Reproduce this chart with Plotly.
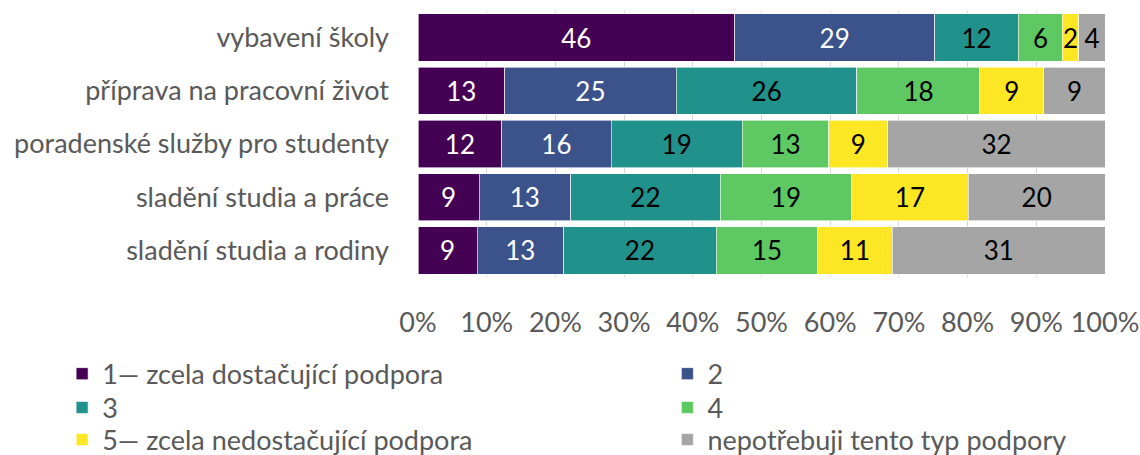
import plotly.graph_objects as go

categories = [
    "vybavení školy",
    "příprava na pracovní život",
    "poradenské služby pro studenty",
    "sladění studia a práce",
    "sladění studia a rodiny",
]
series_names = [
    "1— zcela dostačující podpora",
    "2",
    "3",
    "4",
    "5— zcela nedostačující podpora",
    "nepotřebuji tento typ podpory",
]
# percent values per series, in category order
s1 = [46.1, 12.6, 12.2, 8.9, 8.6]
s2 = [29.1, 25.0, 15.9, 13.3, 12.6]
s3 = [12.2, 26.3, 19.1, 21.8, 22.2]
s4 = [6.4, 17.9, 12.6, 19.1, 14.8]
s5 = [2.4, 9.3, 8.6, 17.0, 10.8]
s6 = [3.8, 8.9, 31.6, 19.9, 31.1]
series_values = [s1, s2, s3, s4, s5, s6]
tick_vals = [0, 10, 20, 30, 40, 50, 60, 70, 80, 90, 100]
tick_text = ["0%", "10%", "20%", "30%", "40%", "50%", "60%", "70%", "80%", "90%", "100%"]

colors = ["#440154", "#3b528b", "#21918c", "#5ec962", "#fde725", "#a5a5a5"]
text_colors = ["white", "white", "black", "black", "black", "black"]
legend_ids = ["legend", "legend2", "legend3", "legend4", "legend5", "legend6"]

FONT = "Lato"
FS = 27
GREY = "#595959"

fig = go.Figure()
for name, vals, col, tcol, lg in zip(series_names, series_values, colors, text_colors, legend_ids):
    fig.add_trace(go.Bar(
        y=categories, x=vals, name=name, orientation="h",
        marker=dict(color=col, line=dict(color="white", width=0.6)),
        text=[f"{v:.0f}" for v in vals],
        textposition="inside", insidetextanchor="middle", textangle=0,
        textfont=dict(color=tcol, size=26, family=FONT),
        hoverinfo="x+y+name",
        legend=lg,
    ))

# legend placement (paper coords): columns and rows
col_x = [-0.518, 0.363]
row_y = [-0.365, -0.492, -0.613]
legend_layout = {}
for i, lg in enumerate(legend_ids):
    legend_layout[lg] = dict(
        orientation="v",
        x=col_x[i % 2], xanchor="left",
        y=row_y[i // 2], yanchor="middle",
        font=dict(size=FS, color=GREY, family=FONT),
        bgcolor="rgba(0,0,0,0)",
    )

fig.update_layout(
    barmode="stack",
    bargap=0.11,
    width=1140, height=455,
    margin=dict(l=418, r=35, t=11, b=178, autoexpand=False),
    plot_bgcolor="white", paper_bgcolor="white",
    font=dict(family=FONT, size=FS, color=GREY),
    uniformtext=dict(minsize=26, mode="show"),
    xaxis=dict(
        range=[0, 100], tickvals=tick_vals, ticktext=tick_text,
        showgrid=True, gridcolor="#d9d9d9", gridwidth=1,
        zeroline=False, showline=False, ticks="",
        ticklabelstandoff=27,
        tickfont=dict(size=FS, color=GREY, family=FONT),
        fixedrange=True,
    ),
    yaxis=dict(
        categoryorder="array", categoryarray=categories, autorange="reversed",
        ticks="", ticklabelstandoff=28,
        tickfont=dict(size=FS, color=GREY, family=FONT),
        showgrid=False,
    ),
    showlegend=True,
    **legend_layout,
)

fig.write_html(
    "out.html",
    config={"displayModeBar": False},
    post_script="document.body.style.margin='0';document.body.style.padding='0';",
)
